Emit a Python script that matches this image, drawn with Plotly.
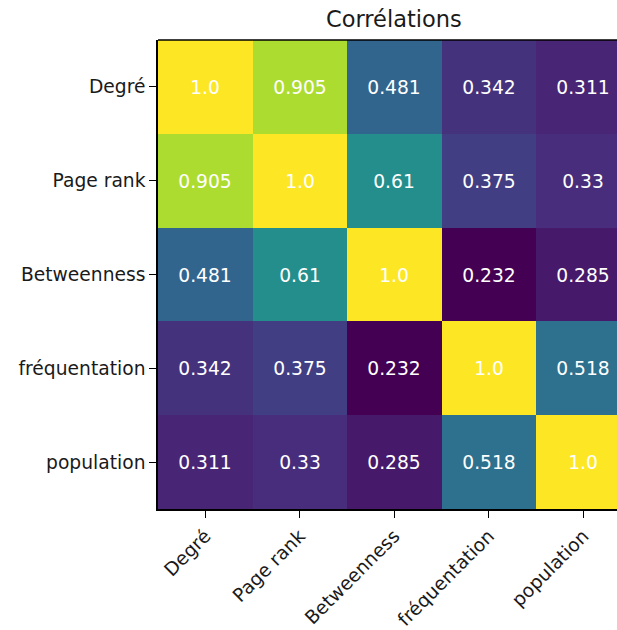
import plotly.graph_objects as go

# Variables compared in the correlation matrix
labels = ["Degré", "Page rank", "Betweenness", "fréquentation", "population"]

# Correlation coefficients, row by row
row_degre = [1.0, 0.905, 0.481, 0.342, 0.311]
row_pagerank = [0.905, 1.0, 0.61, 0.375, 0.33]
row_betweenness = [0.481, 0.61, 1.0, 0.232, 0.285]
row_frequentation = [0.342, 0.375, 0.232, 1.0, 0.518]
row_population = [0.311, 0.33, 0.285, 0.518, 1.0]

matrix = [row_degre, row_pagerank, row_betweenness, row_frequentation, row_population]
text = [[str(v) for v in row] for row in matrix]

W, H = 617, 630
left, top, bottom_px = 158, 40, 512.5
cell = (bottom_px - top) / 5.0
plot_w = W - left
x_max = -0.5 + plot_w / cell
idx = list(range(len(labels)))

viridis = ['#440154', '#482878', '#3e4989', '#31688e', '#26828e',
           '#1f9e89', '#35b779', '#6ece58', '#b5de2b', '#fde725']
colorscale = [[i / (len(viridis) - 1), c] for i, c in enumerate(viridis)]

vmin = min(min(r) for r in matrix)
vmax = max(max(r) for r in matrix)

fig = go.Figure(go.Heatmap(
    z=matrix, x=idx, y=idx,
    text=text, texttemplate="%{text}",
    textfont=dict(family="DejaVu Sans", size=18.7, color="white"),
    colorscale=colorscale, zmin=vmin, zmax=vmax,
    showscale=False, hoverinfo="skip",
))

axis_font = dict(family="DejaVu Sans", size=18.7, color="#1a1a1a")

fig.update_xaxes(
    range=[-0.5, x_max], tickmode="array", tickvals=idx, ticktext=labels,
    tickangle=-45, ticks="outside", ticklen=7, tickwidth=1.3, tickcolor="black",
    tickfont=axis_font, showgrid=False, zeroline=False,
    showline=True, linecolor="black", linewidth=1.5, mirror=False,
)
fig.update_yaxes(
    range=[4.5, -0.5], tickmode="array", tickvals=idx, ticktext=labels,
    ticks="outside", ticklen=7, tickwidth=1.3, tickcolor="black",
    tickfont=axis_font, showgrid=False, zeroline=False,
    showline=True, linecolor="black", linewidth=1.5,
)

# top spine (the right side runs past the page edge)
fig.add_shape(type="line", xref="paper", yref="paper", x0=0, x1=1, y0=1, y1=1,
              line=dict(color="black", width=1.5))

title_x = (5 * cell / 2) / plot_w
fig.add_annotation(
    text="Corrélations", xref="paper", yref="paper", x=title_x, y=1,
    xanchor="center", yanchor="bottom", yshift=6, showarrow=False,
    font=dict(family="DejaVu Sans", size=22.5, color="#1a1a1a"),
)

fig.update_layout(
    width=W, height=H,
    margin=dict(l=left, r=0, t=top, b=H - bottom_px, pad=0),
    paper_bgcolor="white", plot_bgcolor="white",
)

fig.write_html("out.html")
